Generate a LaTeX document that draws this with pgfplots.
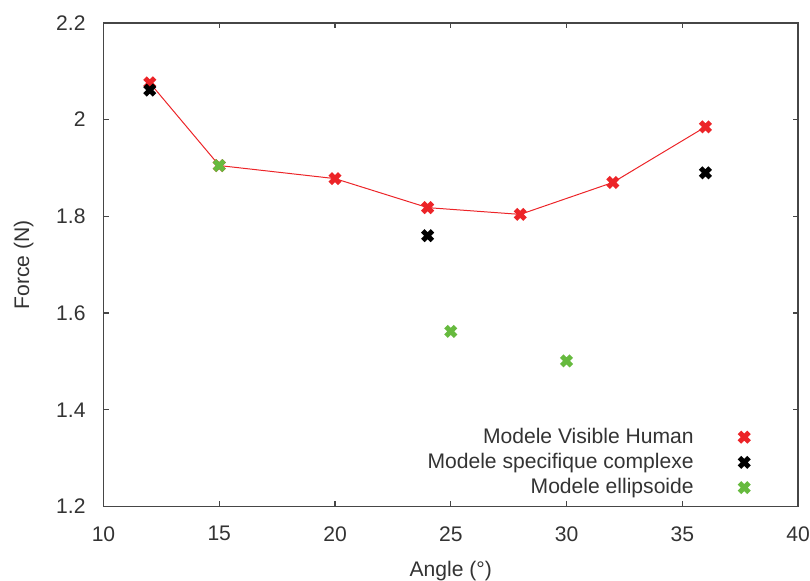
\documentclass[border=0pt]{standalone}
\usepackage{pgfplots}
\pgfplotsset{compat=1.18}
\usepackage{fontspec}
\setmainfont{Liberation Sans}
\definecolor{gpred}{RGB}{236,36,40}
\definecolor{gpgreen}{RGB}{102,186,62}
\definecolor{axisgray}{RGB}{70,70,70}

\begin{document}
\begin{tikzpicture}
\useasboundingbox (-52pt,-37pt) rectangle (355pt,254.5pt);
\begin{axis}[
	scale only axis,
	width=349pt, height=243pt,
	xmin=10, xmax=40,
	ymin=1.2, ymax=2.2,
	xtick={10,15,20,25,30,35,40},
	ytick={1.2,1.4,1.6,1.8,2,2.2},
	font=\fontsize{10.6}{12}\selectfont,
	/pgf/number format/assume math mode=true,
	tick align=inside,
	major tick length=2.6pt,
	axis line style={axisgray, line width=0.7pt},
	every tick/.style={axisgray, line width=0.7pt},
	xticklabel style={text=black!80, yshift=-6.5pt},
	yticklabel style={text=black!80, xshift=-5.5pt},
	xlabel={Angle (°)},
	ylabel={Force (N)},
	every axis x label/.style={at={(axis description cs:0.5,-0.133)}, anchor=center, text=black!80},
	every axis y label/.style={at={(axis description cs:-0.115,0.5)}, anchor=center, rotate=90, text=black!80},
	legend style={at={(0.93,0.011)}, anchor=south east, draw=none, fill=none,
		legend cell align=right, row sep=-0.5pt, column sep=21pt, inner sep=0pt,
		nodes={text=black!80}},
	legend plot pos=right,
	mark options={solid},
]
% red line (no legend)
\addplot[gpred, line width=0.5pt, forget plot] coordinates {
	(12,2.076)(15,1.905)(20,1.878)(24,1.818)(28,1.804)(32,1.870)(36,1.985)
};
\addplot[only marks, mark=x, mark size=3.4pt, line width=2.5pt, gpred] coordinates {
	(12,2.076)(15,1.905)(20,1.878)(24,1.818)(28,1.804)(32,1.870)(36,1.985)
};
\addlegendentry{Modele Visible Human}
\addplot[only marks, mark=x, mark size=3.4pt, line width=2.5pt, black] coordinates {
	(12,2.061)(24,1.760)(36,1.890)
};
\addlegendentry{Modele specifique complexe}
\addplot[only marks, mark=x, mark size=3.4pt, line width=2.5pt, gpgreen] coordinates {
	(15,1.905)(25,1.562)(30,1.501)
};
\addlegendentry{Modele ellipsoide}
\end{axis}
\end{tikzpicture}
\end{document}
